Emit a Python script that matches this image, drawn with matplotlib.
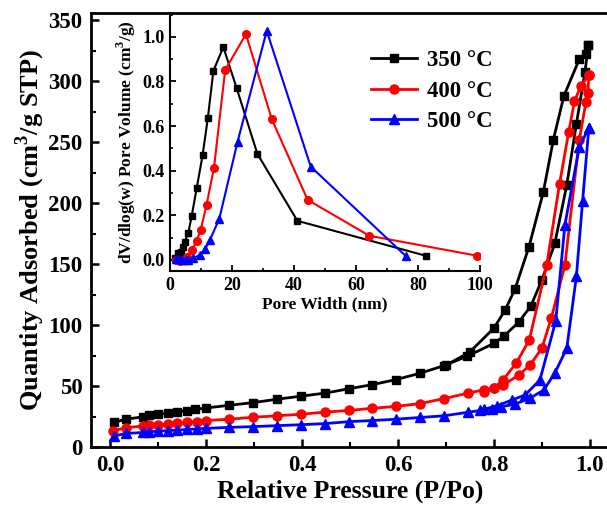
import matplotlib
matplotlib.use("Agg")
import matplotlib.pyplot as plt
from matplotlib.ticker import MultipleLocator
from matplotlib.lines import Line2D

plt.rcParams['font.family'] = ['Liberation Serif', 'DejaVu Serif']
plt.rcParams['font.weight'] = 'bold'
plt.rcParams['mathtext.fontset'] = 'custom'
plt.rcParams['mathtext.rm'] = 'Liberation Serif:bold'
plt.rcParams['mathtext.bf'] = 'Liberation Serif:bold'

labels = ["350 °C", "400 °C", "500 °C"]
colors = ["black", "red", "blue"]
markers = ["s", "o", "^"]

# Isotherms: adsorption and desorption branches
p350_ads = [0.008,0.032,0.068,0.08,0.1,0.12,0.14,0.16,0.176,0.2,0.248,0.298,0.348,0.398,0.448,0.498,0.546,0.596,0.646,0.696,0.744,0.8,0.821,0.852,0.877,0.9,0.927,0.952,0.972,0.99,0.997]
q350_ads = [20.3,22.8,24.7,26,26.7,27.8,28.9,29.7,30.8,32,34.2,36.4,39.2,41.7,44.2,47.8,51.1,55.3,60.5,66.7,74.4,85,91,102.5,115.6,137,167,215,265,308,330]
p350_des = [0.997,0.993,0.978,0.946,0.924,0.903,0.873,0.844,0.823,0.8,0.75,0.7]
q350_des = [330,322,318,288,252,209,164,129.5,112,97.5,78,67]

p400_ads = [0.006,0.032,0.068,0.08,0.1,0.12,0.14,0.16,0.18,0.2,0.248,0.298,0.348,0.398,0.448,0.498,0.546,0.596,0.646,0.696,0.746,0.78,0.8,0.82,0.852,0.875,0.9,0.92,0.948,0.978,0.992,0.996,0.998]
q400_ads = [13.3,15.8,17.2,17.8,18.3,18.9,19.4,20.3,20.8,21.7,22.8,24.4,25.6,26.9,28.6,30,31.7,33.3,35.6,39.7,44.2,47,48.4,51,59,67,81,106,149,252,283,290,305]
p400_des = [0.998,0.981,0.968,0.956,0.937,0.91,0.874,0.847,0.819,0.8,0.78]
q400_des = [305,296,283.5,258.5,216,149,88,69,55,48.4,45]

p500_ads = [0.008,0.032,0.068,0.08,0.1,0.12,0.14,0.16,0.18,0.2,0.248,0.298,0.348,0.398,0.448,0.498,0.546,0.596,0.646,0.696,0.746,0.772,0.796,0.815,0.844,0.875,0.904,0.927,0.952,0.972,0.985,0.998]
q500_ads = [8.9,11.1,11.9,12.4,13,13.4,13.9,14.4,14.8,15.3,16.1,16.7,17.5,18.3,19.2,20.8,21.7,22.8,24.2,25.6,28.5,30,31.5,33,35.2,40,46.7,60.6,81,140,202,262]
p500_des = [0.998,0.978,0.948,0.929,0.896,0.865,0.837,0.806,0.779]
q500_des = [262,246,182,103.5,55,42.6,38.5,33.6,31]

# Pore size distributions (inset)
w350 = [1.6,2.5,3.4,4.3,4.8,5.9,7.0,8.6,10.5,12.2,14.0,17.2,21.5,28.2,41.1,82.6]
v350 = [0.01,0.03,0.035,0.057,0.082,0.12,0.197,0.32,0.468,0.635,0.848,0.954,0.77,0.475,0.175,0.018]
w400 = [2.0,3.2,4.5,5.6,7.0,8.6,9.9,11.8,14.2,17.8,24.5,32.8,44.4,64.3,98.9]
v400 = [0.0,-0.005,0.0,0.015,0.042,0.085,0.134,0.247,0.414,0.852,1.012,0.632,0.269,0.108,0.019]
w500 = [2.0,3.0,4.0,5.0,5.9,7.5,9.7,11.3,12.9,15.9,21.8,31.2,45.4,76.0]
v500 = [0.005,0.004,0.0,0.0,0.0,0.008,0.022,0.048,0.09,0.184,0.53,1.027,0.418,0.018]

W, H = 607, 508
fig = plt.figure(figsize=(W/100, H/100), dpi=100)
fig.patch.set_facecolor('white')

ax = fig.add_axes([91/W, 1-447/H, (609-91)/W, (447-13)/H])
ax.set_xlim(-0.04, 1.04)
ax.set_ylim(0, 356)

iso = [(p350_ads, q350_ads, p350_des, q350_des),
       (p400_ads, q400_ads, p400_des, q400_des),
       (p500_ads, q500_ads, p500_des, q500_des)]
msizes = [6, 6.5, 7]
for (pa, qa, pd, qd), c, m, ms in zip(iso, colors, markers, msizes):
    ax.plot(pa, qa, color=c, marker=m, ms=ms, lw=2)
    ax.plot(pd, qd, color=c, marker=m, ms=ms, lw=2)

ax.xaxis.set_major_locator(MultipleLocator(0.2))
ax.xaxis.set_minor_locator(MultipleLocator(0.1))
ax.yaxis.set_major_locator(MultipleLocator(50))
ax.yaxis.set_minor_locator(MultipleLocator(25))
ax.xaxis.set_major_formatter(matplotlib.ticker.FormatStrFormatter('%.1f'))
ax.tick_params(which='major', direction='in', length=6, width=1.8, labelsize=16.5, pad=6)
ax.tick_params(which='minor', direction='in', length=3.5, width=1.5)
for s in ['left', 'bottom', 'top', 'right']:
    ax.spines[s].set_linewidth(2)
for lab in ax.get_xticklabels() + ax.get_yticklabels():
    lab.set_fontweight('bold')
ax.set_xlabel('Relative Pressure (P/Po)', fontsize=18.5, fontweight='bold', labelpad=2)
ax.set_ylabel('Quantity Adsorbed (cm$^3$/g STP)', fontsize=19, fontweight='bold', labelpad=1)

# Inset
ax2 = fig.add_axes([170/W, 1-271/H, (480-170)/W, (271-13)/H])
ax2.patch.set_alpha(0)
ax2.set_xlim(0, 100)
ax2.set_ylim(-0.05, 1.107)
for (w, v), c, m, ms in zip([(w350, v350), (w400, v400), (w500, v500)], colors, markers, [4.5, 5.5, 5.5]):
    ax2.plot(w, v, color=c, marker=m, ms=ms, lw=1.5)
ax2.spines['top'].set_visible(False)
ax2.spines['right'].set_visible(False)
ax2.spines['left'].set_linewidth(1.5)
ax2.spines['bottom'].set_linewidth(1.5)
ax2.xaxis.set_major_locator(MultipleLocator(20))
ax2.xaxis.set_minor_locator(MultipleLocator(10))
ax2.yaxis.set_major_locator(MultipleLocator(0.2))
ax2.yaxis.set_minor_locator(MultipleLocator(0.1))
ax2.yaxis.set_major_formatter(matplotlib.ticker.FormatStrFormatter('%.1f'))
ax2.tick_params(which='major', direction='in', length=4, width=1.3, labelsize=13, pad=4)
ax2.tick_params(which='minor', direction='in', length=2.5, width=1.2)
for lab in ax2.get_xticklabels() + ax2.get_yticklabels():
    lab.set_fontweight('bold')
ax2.set_xlabel('Pore Width (nm)', fontsize=12.5, fontweight='bold', labelpad=2)
ax2.set_ylabel('dV/dlog(w) Pore Volume (cm$^3$/g)', fontsize=12.5, fontweight='bold', labelpad=3)

handles = [Line2D([0], [0], color=c, marker=m, ms=ms, lw=2) for c, m, ms in zip(colors, markers, msizes)]
leg = fig.legend(handles, labels, loc='upper left', bbox_to_anchor=(371/W, 1-50/H),
                 frameon=False, fontsize=16.5, handlelength=2.0, handletextpad=0.45,
                 labelspacing=0.42, borderpad=0, borderaxespad=0)
for t in leg.get_texts():
    t.set_fontweight('bold')

fig.savefig('out.png', dpi=100, facecolor='white')
